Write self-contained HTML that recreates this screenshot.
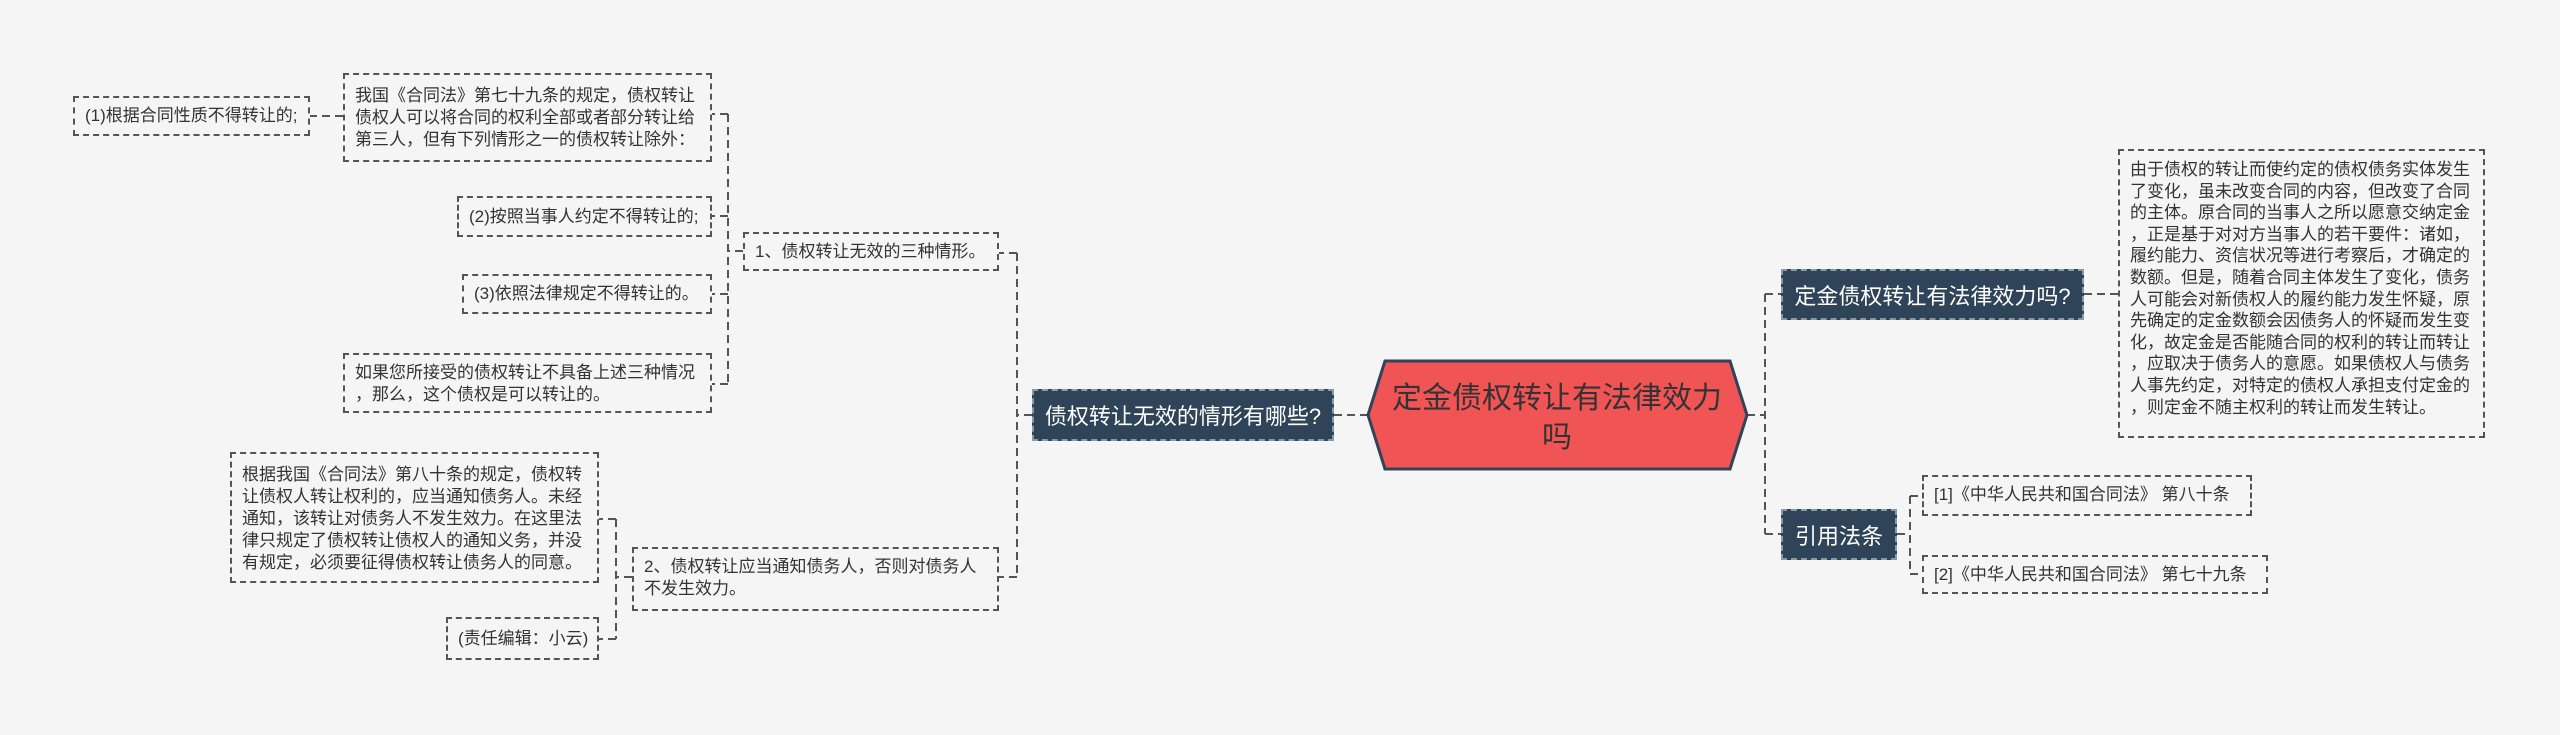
<!DOCTYPE html>
<html><head><meta charset="utf-8"><style>
body{margin:0;width:2560px;height:735px;background:#f5f5f5;position:relative;overflow:hidden;font-family:"Liberation Sans","Noto Sans CJK SC",sans-serif;color:#333}
.b{position:absolute;box-sizing:border-box;border:2px dashed #555;font-size:17px;line-height:22px;padding:4px 10px;background:#f5f5f5;white-space:nowrap}
.d{position:absolute;box-sizing:border-box;background:#2f4459;color:#fff;font-size:22px;display:flex;align-items:center;justify-content:center;border:2px dashed #8899aa;white-space:nowrap}
svg{position:absolute;left:0;top:0}
</style></head><body>
<svg width="2560" height="735">
<g stroke="#555" stroke-width="2" stroke-dasharray="8,5" fill="none">
<path d="M1368 415H1334M1032 415H1017M1017 253V577M1017 253H999M1017 577H999"/>
<path d="M743 251H728M728 114V384M728 114H712M728 216H712M728 294H712M728 384H712M343 116H310"/>
<path d="M632 577H616M616 519V639M616 519H599M616 639H599"/>
<path d="M1747 415H1765M1765 294V534M1765 294H1781M1765 534H1781M2084 294H2118"/>
<path d="M1897 534H1910M1910 496V574M1910 496H1922M1910 574H1922"/>
</g>
<polygon points="1385,361 1730,361 1747,415 1730,469 1385,469 1368,415" fill="#f05454" stroke="#2f4459" stroke-width="3"/>
<text x="1557" y="408" font-size="30" text-anchor="middle" fill="#333" font-family="Liberation Sans, Noto Sans CJK SC, sans-serif">定金债权转让有法律效力</text>
<text x="1557" y="447" font-size="30" text-anchor="middle" fill="#333" font-family="Liberation Sans, Noto Sans CJK SC, sans-serif">吗</text>
</svg>
<div class="d" style="left:1032px;top:389px;width:302px;height:52px">债权转让无效的情形有哪些?</div>
<div class="d" style="left:1781px;top:269px;width:303px;height:51px">定金债权转让有法律效力吗?</div>
<div class="d" style="left:1781px;top:509px;width:116px;height:51px">引用法条</div>
<div class="b" style="left:2118px;top:149px;width:367px;height:289px;line-height:21.6px;padding-top:8px">由于债权的转让而使约定的债权债务实体发生<br>了变化，虽未改变合同的内容，但改变了合同<br>的主体。原合同的当事人之所以愿意交纳定金<br>，正是基于对对方当事人的若干要件：诸如，<br>履约能力、资信状况等进行考察后，才确定的<br>数额。但是，随着合同主体发生了变化，债务<br>人可能会对新债权人的履约能力发生怀疑，原<br>先确定的定金数额会因债务人的怀疑而发生变<br>化，故定金是否能随合同的权利的转让而转让<br>，应取决于债务人的意愿。如果债权人与债务<br>人事先约定，对特定的债权人承担支付定金的<br>，则定金不随主权利的转让而发生转让。</div>
<div class="b" style="left:1922px;top:475px;width:330px;height:41px;padding-top:7px">[1]《中华人民共和国合同法》 第八十条</div>
<div class="b" style="left:1922px;top:555px;width:346px;height:39px;padding-top:7px">[2]《中华人民共和国合同法》 第七十九条</div>
<div class="b" style="left:743px;top:232px;width:256px;height:39px;padding-top:7px">1、债权转让无效的三种情形。</div>
<div class="b" style="left:632px;top:547px;width:367px;height:64px;padding-top:7px">2、债权转让应当通知债务人，否则对债务人<br>不发生效力。</div>
<div class="b" style="left:343px;top:73px;width:369px;height:89px;padding-top:10px">我国《合同法》第七十九条的规定，债权转让<br>债权人可以将合同的权利全部或者部分转让给<br>第三人，但有下列情形之一的债权转让除外：</div>
<div class="b" style="left:73px;top:96px;width:237px;height:40px;padding-top:7px">(1)根据合同性质不得转让的;</div>
<div class="b" style="left:457px;top:196px;width:255px;height:41px;padding-top:8px">(2)按照当事人约定不得转让的;</div>
<div class="b" style="left:462px;top:274px;width:250px;height:40px;padding-top:7px">(3)依照法律规定不得转让的。</div>
<div class="b" style="left:343px;top:353px;width:369px;height:60px;padding-top:7px">如果您所接受的债权转让不具备上述三种情况<br>，那么，这个债权是可以转让的。</div>
<div class="b" style="left:230px;top:452px;width:369px;height:131px;padding-top:10px">根据我国《合同法》第八十条的规定，债权转<br>让债权人转让权利的，应当通知债务人。未经<br>通知，该转让对债务人不发生效力。在这里法<br>律只规定了债权转让债权人的通知义务，并没<br>有规定，必须要征得债权转让债务人的同意。</div>
<div class="b" style="left:446px;top:617px;width:153px;height:43px;padding-top:9px">(责任编辑：小云)</div>
</body></html>
